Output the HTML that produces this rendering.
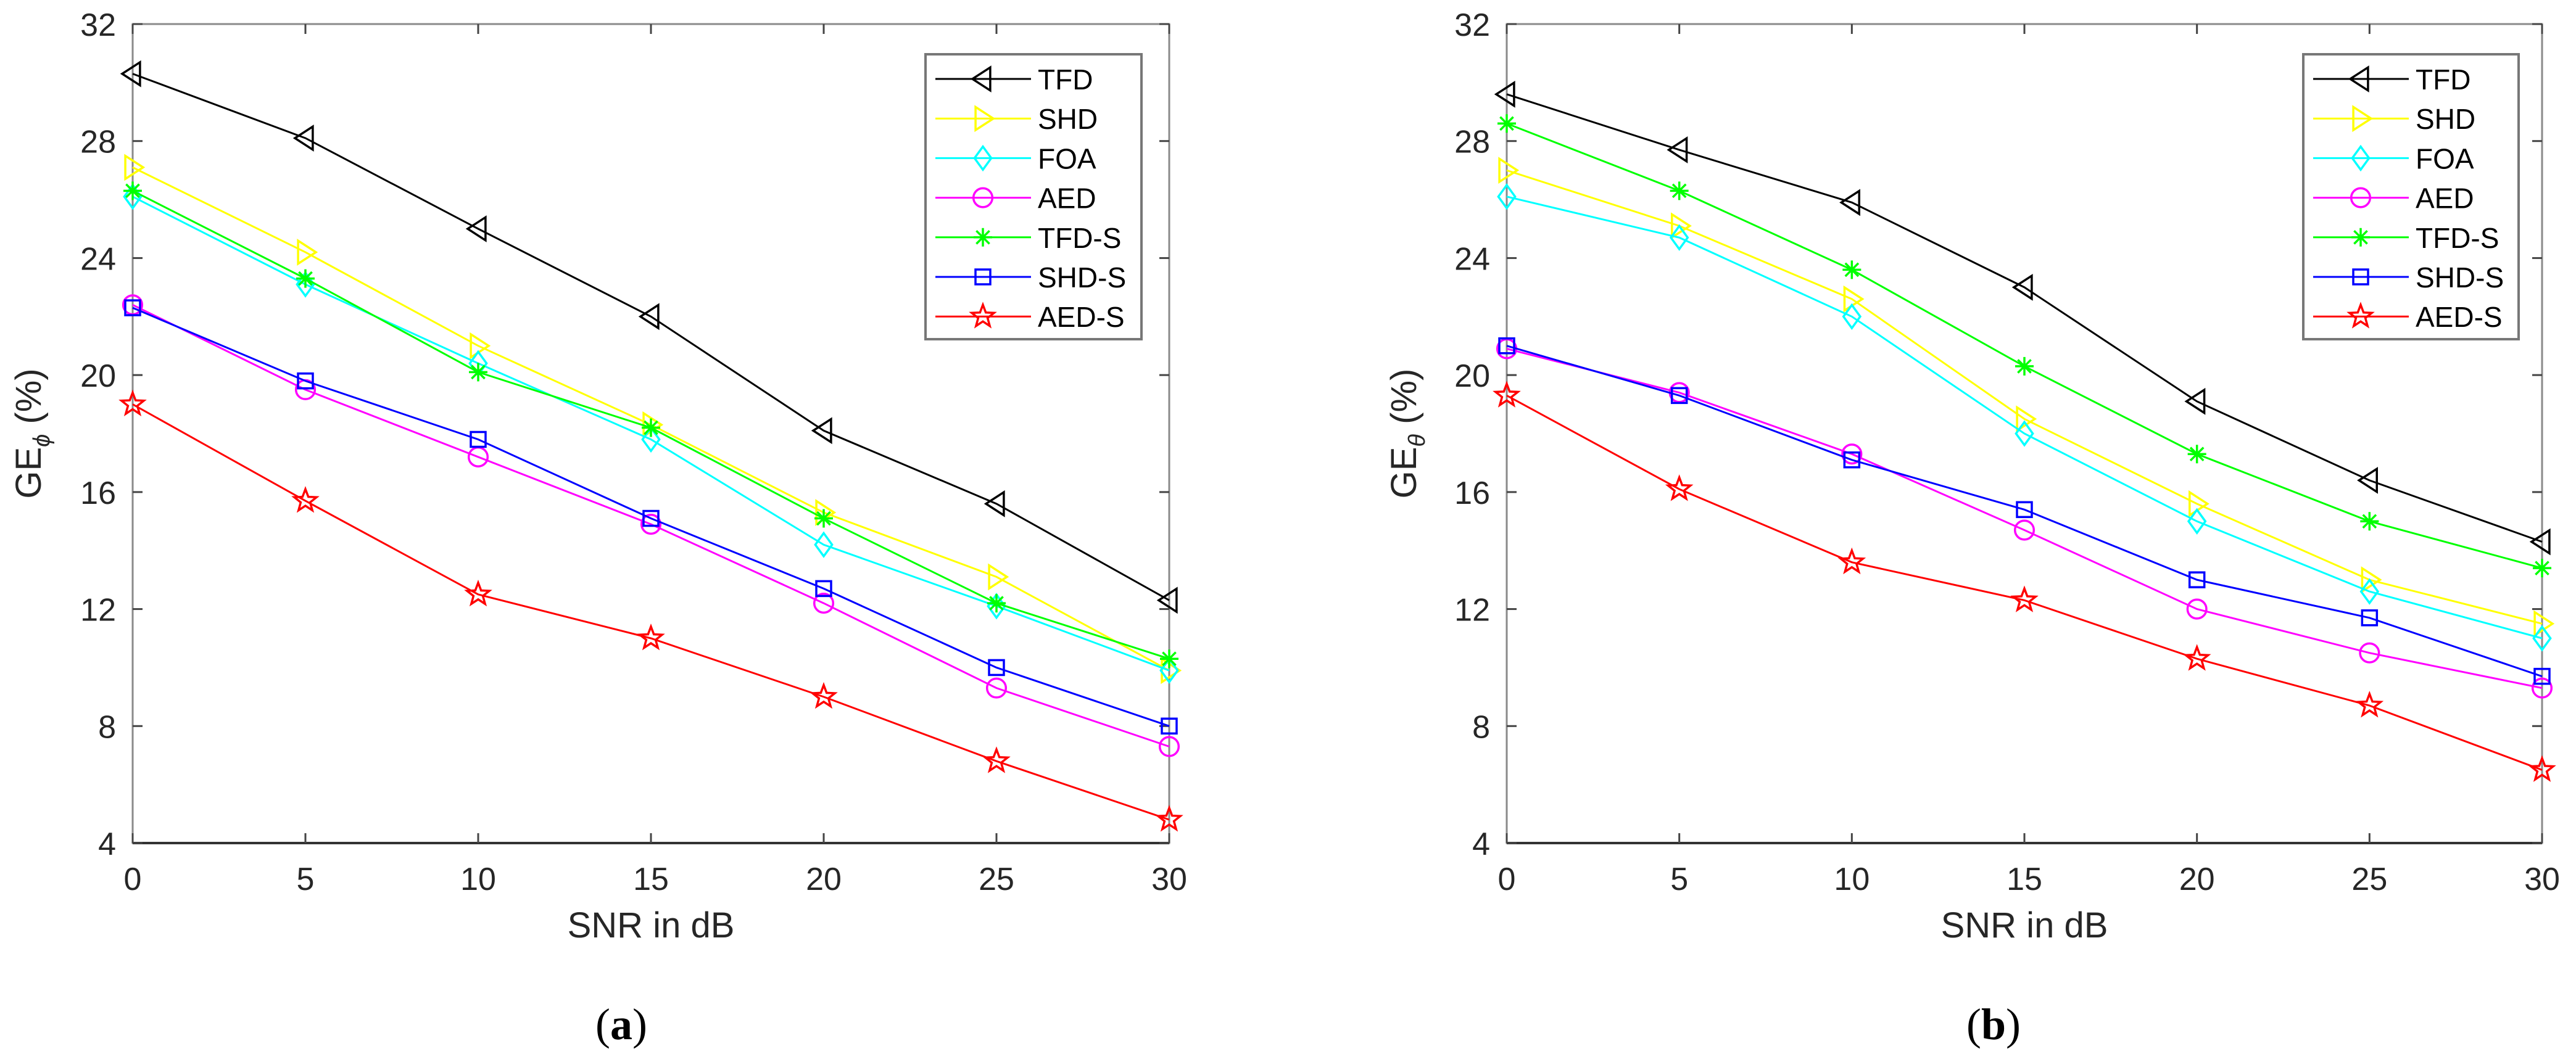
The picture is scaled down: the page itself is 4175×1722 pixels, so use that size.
<!DOCTYPE html>
<html><head><meta charset="utf-8"><style>
html,body{margin:0;padding:0;background:#fff;}
svg{display:block;font-family:"Liberation Sans",sans-serif;}
</style></head><body>
<svg id="svg" width="4175" height="1722" viewBox="0 0 4175 1722" xmlns="http://www.w3.org/2000/svg"></svg>
<script>
const xCats = [0, 5, 10, 15, 20, 25, 30];
const yTicks = [4, 8, 12, 16, 20, 24, 28, 32];
const seriesNames = ["TFD", "SHD", "FOA", "AED", "TFD-S", "SHD-S", "AED-S"];
const aTFD  = [30.3, 28.1, 25.0, 22.0, 18.1, 15.6, 12.3];
const aSHD  = [27.1, 24.2, 21.0, 18.3, 15.3, 13.1, 9.9];
const aFOA  = [26.1, 23.1, 20.4, 17.8, 14.2, 12.1, 9.9];
const aAED  = [22.4, 19.5, 17.2, 14.9, 12.2, 9.3, 7.3];
const aTFDS = [26.3, 23.3, 20.1, 18.2, 15.1, 12.2, 10.3];
const aSHDS = [22.3, 19.8, 17.8, 15.1, 12.7, 10.0, 8.0];
const aAEDS = [19.0, 15.7, 12.5, 11.0, 9.0, 6.8, 4.8];
const bTFD  = [29.6, 27.7, 25.9, 23.0, 19.1, 16.4, 14.3];
const bSHD  = [27.0, 25.1, 22.6, 18.5, 15.6, 13.0, 11.5];
const bFOA  = [26.1, 24.7, 22.0, 18.0, 15.0, 12.6, 11.0];
const bAED  = [20.9, 19.4, 17.3, 14.7, 12.0, 10.5, 9.3];
const bTFDS = [28.6, 26.3, 23.6, 20.3, 17.3, 15.0, 13.4];
const bSHDS = [21.0, 19.3, 17.1, 15.4, 13.0, 11.7, 9.7];
const bAEDS = [19.3, 16.1, 13.6, 12.3, 10.3, 8.7, 6.5];

const colors = ["#000000", "#ffff00", "#00ffff", "#ff00ff", "#00ff00", "#0000ff", "#ff0000"];
const markers = ["tl", "tr", "dia", "circ", "ast", "sq", "star"];
const NS = "http://www.w3.org/2000/svg";
const svg = document.getElementById("svg");
function mk(tag, attrs, parent) {
  const e = document.createElementNS(NS, tag);
  for (const k in attrs) e.setAttribute(k, attrs[k]);
  (parent || svg).appendChild(e);
  return e;
}
function marker(type, cx, cy, col, g) {
  const s = 17;
  const st = {fill: "none", stroke: col, "stroke-width": 3.5};
  let e;
  if (type === "tl") e = mk("polygon", Object.assign({points: `${cx - s},${cy} ${cx + s * 0.7},${cy - s * 1.1} ${cx + s * 0.7},${cy + s * 1.1}`}, st), g);
  else if (type === "tr") e = mk("polygon", Object.assign({points: `${cx + s},${cy} ${cx - s * 0.7},${cy - s * 1.1} ${cx - s * 0.7},${cy + s * 1.1}`}, st), g);
  else if (type === "dia") e = mk("polygon", Object.assign({points: `${cx},${cy - s * 1.1} ${cx + s * 0.8},${cy} ${cx},${cy + s * 1.1} ${cx - s * 0.8},${cy}`}, st), g);
  else if (type === "circ") e = mk("circle", Object.assign({cx: cx, cy: cy, r: s * 0.9}, st), g);
  else if (type === "sq") e = mk("rect", Object.assign({x: cx - 12, y: cy - 12, width: 24, height: 24}, st), g);
  else if (type === "ast") {
    let d = "";
    for (let i = 0; i < 4; i++) { const a = i * Math.PI / 4; d += `M${cx - 15 * Math.cos(a)},${cy - 15 * Math.sin(a)}L${cx + 15 * Math.cos(a)},${cy + 15 * Math.sin(a)}`; }
    e = mk("path", Object.assign({d: d}, st), g);
  } else {
    let p = [];
    for (let i = 0; i < 10; i++) { const r = i % 2 ? 8 : 19; const a = -Math.PI / 2 + i * Math.PI / 5; p.push(`${cx + r * Math.cos(a)},${cy + r * Math.sin(a)}`); }
    e = mk("polygon", Object.assign({points: p.join(" ")}, st), g);
  }
  
  
}
function drawChart(id, L, R, T, B, data, ylabSub, ylabX, legL, legR, capX, capLetter) {
  const g = mk("g", {});
  
  
  const xs = v => L + (v - 0) / 30 * (R - L);
  const ys = v => B - (v - 4) / 28 * (B - T);
  const frame = mk("rect", {x: L, y: T, width: R - L, height: B - T, fill: "#fff", stroke: "#8a8a8a", "stroke-width": 3}, g);
  
  
  mk("line", {x1: L, y1: B, x2: R, y2: B, stroke: "#333", "stroke-width": 4}, g);
  xCats.forEach(v => {
    const x = xs(v);
    mk("line", {x1: x, y1: B, x2: x, y2: B - 16, stroke: "#444", "stroke-width": 3}, g);
    mk("line", {x1: x, y1: T, x2: x, y2: T + 16, stroke: "#444", "stroke-width": 3}, g);
    const t = mk("text", {x: x, y: B + 76, "font-size": 52, "text-anchor": "middle", fill: "#262626"}, g);
    t.textContent = v;
    
    
  });
  yTicks.forEach(v => {
    const y = ys(v);
    mk("line", {x1: L, y1: y, x2: L + 16, y2: y, stroke: "#444", "stroke-width": 3}, g);
    mk("line", {x1: R, y1: y, x2: R - 16, y2: y, stroke: "#444", "stroke-width": 3}, g);
    const t = mk("text", {x: L - 27, y: y + 19, "font-size": 52, "text-anchor": "end", fill: "#262626"}, g);
    t.textContent = v;
    
    
  });
  const xl = mk("text", {x: (L + R) / 2, y: 1520, "font-size": 58, "text-anchor": "middle", fill: "#262626"}, g);
  xl.textContent = "SNR in dB";
  
  
  const yl = mk("text", {transform: `translate(${ylabX},${(T + B) / 2}) rotate(-90)`, "font-size": 58, "text-anchor": "middle", fill: "#262626"}, g);
  yl.innerHTML = `GE<tspan font-size="38" font-style="italic" dy="14">${ylabSub}</tspan><tspan dy="-14"> (%)</tspan>`;
  
  
  data.forEach((arr, si) => {
    const sg = mk("g", {}, g);
    
    
    const pts = arr.map((v, i) => `${xs(xCats[i])},${ys(v)}`).join(" ");
    mk("polyline", {points: pts, fill: "none", stroke: colors[si], "stroke-width": 3}, sg);
    arr.forEach((v, i) => marker(markers[si], xs(xCats[i]), ys(v), colors[si], sg));
  });
  const lg = mk("g", {}, g);
  
  
  mk("rect", {x: legL, y: 88, width: legR - legL, height: 462, fill: "#fff", stroke: "#777", "stroke-width": 4}, lg);
  seriesNames.forEach((n, i) => {
    const y = 128 + i * 64.2;
    const eg = mk("g", {}, lg);
    
    
    mk("line", {x1: legL + 16, y1: y, x2: legL + 171, y2: y, stroke: colors[i], "stroke-width": 3}, eg);
    marker(markers[i], legL + 93, y, colors[i], eg);
    const t = mk("text", {x: legL + 182, y: y + 17, "font-size": 46, fill: "#000"}, eg);
    t.textContent = n;
  });
  const cap = mk("text", {x: capX, y: 1685, "font-size": 72, "text-anchor": "middle", "font-family": "Liberation Serif, serif", fill: "#000"}, g);
  cap.innerHTML = `(<tspan font-weight="bold">${capLetter}</tspan>)`;
  
  
}
drawChart("chart-a", 215, 1895, 39, 1367, [aTFD, aSHD, aFOA, aAED, aTFDS, aSHDS, aAEDS], "ϕ", 66, 1500, 1850, 1007, "a");
drawChart("chart-b", 2442, 4120, 39, 1367, [bTFD, bSHD, bFOA, bAED, bTFDS, bSHDS, bAEDS], "θ", 2295, 3733, 4082, 3231, "b");
</script>
</body></html>
